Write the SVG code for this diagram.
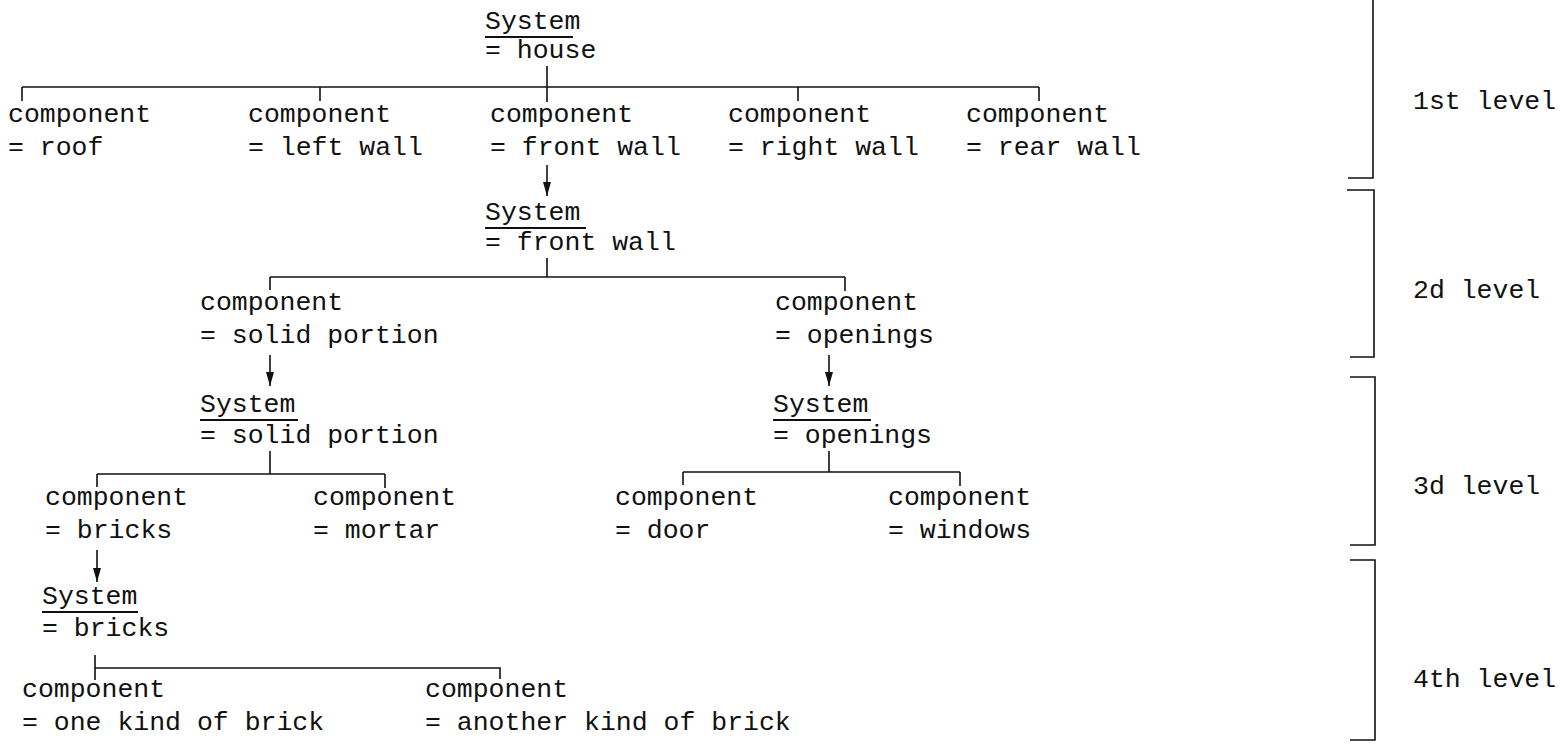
<svg xmlns="http://www.w3.org/2000/svg" width="1562" height="744" viewBox="0 0 1562 744">
<style>
text{font-family:"Liberation Mono","DejaVu Sans Mono",monospace;font-size:26.5px;fill:#111}
.ln{stroke:#111;stroke-width:1.6;fill:none}
.ul{stroke:#111;stroke-width:2.2}
</style>
<defs>
<marker id="ah" viewBox="0 0 14 8" refX="14" refY="4" markerWidth="14" markerHeight="8" markerUnits="userSpaceOnUse" orient="auto">
<path d="M0,0 L14,4 L0,8 Z" fill="#111"/>
</marker>
</defs>
<rect width="1562" height="744" fill="#fff"/>
<g id="connectors">
<path class="ln" d="M547,66 V102 M22,87 H1039 M22,87 V101 M320,87 V101 M798,87 V101 M1039,87 V101"/>
<path class="ln" d="M547,165 V196" marker-end="url(#ah)"/>
<path class="ln" d="M547,258 V277 M270,277 H845 M270,277 V290 M845,277 V291"/>
<path class="ln" d="M270,355 V386" marker-end="url(#ah)"/>
<path class="ln" d="M829,355 V386" marker-end="url(#ah)"/>
<path class="ln" d="M270,451 V474 M97,474 H385 M97,474 V487 M385,474 V488"/>
<path class="ln" d="M829,451 V472 M683,472 H960 M683,472 V485 M960,472 V486"/>
<path class="ln" d="M97,550 V582" marker-end="url(#ah)"/>
<path class="ln" d="M95,655 V668 H500 V679 M95,668 V680"/>
<path class="ln" d="M1373,0 V178 H1348"/>
<path class="ln" d="M1347,190 H1374 V357 H1350"/>
<path class="ln" d="M1350,377 H1375 V545 H1350"/>
<path class="ln" d="M1350,560 H1375 V740 H1350"/>
</g>
<g id="sys-house"><text x="485" y="29">System</text><line class="ul" x1="485" y1="37" x2="573" y2="37"/><text x="485" y="58">= house</text></g>
<g id="comp-roof"><text x="8" y="122">component</text><text x="8" y="155">= roof</text></g>
<g id="comp-leftwall"><text x="248" y="122">component</text><text x="248" y="155">= left wall</text></g>
<g id="comp-frontwall"><text x="490" y="122">component</text><text x="490" y="155">= front wall</text></g>
<g id="comp-rightwall"><text x="728" y="122">component</text><text x="728" y="155">= right wall</text></g>
<g id="comp-rearwall"><text x="966" y="122">component</text><text x="966" y="155">= rear wall</text></g>
<g id="sys-frontwall"><text x="485" y="220">System</text><line class="ul" x1="485" y1="228" x2="586" y2="228"/><text x="485" y="250">= front wall</text></g>
<g id="comp-solid"><text x="200" y="310">component</text><text x="200" y="343">= solid portion</text></g>
<g id="comp-openings"><text x="775" y="310">component</text><text x="775" y="343">= openings</text></g>
<g id="sys-solid"><text x="200" y="412">System</text><line class="ul" x1="200" y1="420" x2="298" y2="420"/><text x="200" y="443">= solid portion</text></g>
<g id="sys-openings"><text x="773" y="412">System</text><line class="ul" x1="773" y1="420" x2="871" y2="420"/><text x="773" y="443">= openings</text></g>
<g id="comp-bricks"><text x="45" y="505">component</text><text x="45" y="538">= bricks</text></g>
<g id="comp-mortar"><text x="313" y="505">component</text><text x="313" y="538">= mortar</text></g>
<g id="comp-door"><text x="615" y="505">component</text><text x="615" y="538">= door</text></g>
<g id="comp-windows"><text x="888" y="505">component</text><text x="888" y="538">= windows</text></g>
<g id="sys-bricks"><text x="42" y="604">System</text><line class="ul" x1="42" y1="612" x2="138" y2="612"/><text x="42" y="636">= bricks</text></g>
<g id="comp-onekind"><text x="22" y="697">component</text><text x="22" y="730">= one kind of brick</text></g>
<g id="comp-another"><text x="425" y="697">component</text><text x="425" y="730">= another kind of brick</text></g>
<g id="levels">
<text x="1413" y="109">1st level</text>
<text x="1413" y="298">2d level</text>
<text x="1413" y="494">3d level</text>
<text x="1413" y="687">4th level</text>
</g>
</svg>
